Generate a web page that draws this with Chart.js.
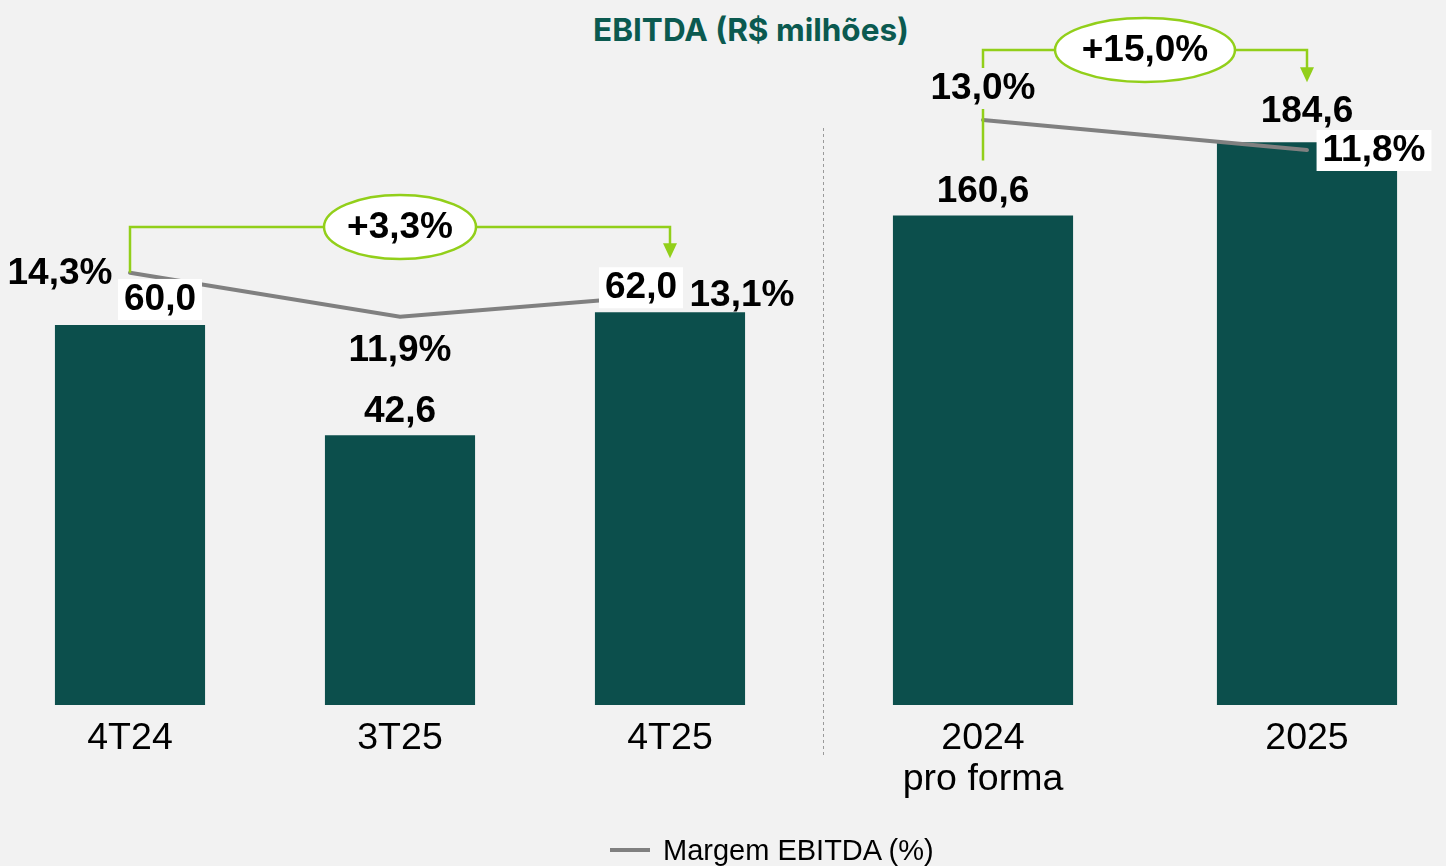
<!DOCTYPE html>
<html>
<head>
<meta charset="utf-8">
<script src="https://cdn.jsdelivr.net/npm/chart.js@4.4.1/dist/chart.umd.min.js"></script>
<style>
  html, body { margin:0; padding:0; background:#f2f2f2; width:1446px; height:866px; overflow:hidden; }
  .box { position:absolute; top:0; height:866px; }
  #title { position:absolute; top:10px; left:0; width:1502px; text-align:center; font-family:Inter, sans-serif; font-weight:700; font-size:31.5px; color:#0b5a50; }
  #legend { position:absolute; top:834px; left:610px; font-family:"Liberation Sans", Arial, sans-serif; font-size:29px; color:#000; white-space:nowrap; }
  #legend span.sw { display:inline-block; width:40px; height:4px; background:#808080; vertical-align:middle; margin-right:13px; position:relative; top:-2px; }
</style>
</head>
<body>
<div id="title">EBITDA (R$ milhões)</div>
<div class="box" style="left:-5px;width:810px"><canvas id="quarterChart"></canvas></div>
<div class="box" style="left:821px;width:648px"><canvas id="yearChart"></canvas></div>
<div id="legend"><span class="sw"></span>Margem EBITDA (%)</div>
<script>
// quarters (left block)
var quarters = ["4T24", "3T25", "4T25"];
var ebitdaQ = [60.0, 42.6, 62.0];
var marginQ = [14.3, 11.9, 13.1];
var growthQ = "+3,3%";
// full years (right block)
var years = [["2024", "pro forma"], "2025"];
var ebitdaY = [160.6, 184.6];
var marginY = [13.0, 11.8];
var growthY = "+15,0%";

var BAR = "#0c4f4c";
var GREEN = "#92cf1a";
var FONT = '"Liberation Sans", Arial, sans-serif';

// label placement per chart (kept out of chart options)
var marks = {
  quarterChart: {
    divider: false,
    bracket: { fromLine: true, top: 227, endOff: -54, rx: 76, text: growthQ },
    marginLabels: [{ dx: -70, dy: 0 }, { dx: 0, dy: 33 }, { dx: 72, dy: 0 }],
    barLabels: [{ dx: 30, dy: -26, bg: "#fff" }, { dx: 0, dy: -24 }, { dx: -29, dy: -25, bg: "#fff" }]
  },
  yearChart: {
    divider: true,
    bracket: { fromLine: false, startOff: -55, top: 50, endOff: -60, rx: 90, text: growthY },
    marginLabels: [{ dx: 0, dy: -32, bg: "#f2f2f2" }, { dx: 67, dy: 0, bg: "#fff" }],
    barLabels: [{ dx: 0, dy: -25 }, { dx: 0, dy: -32 }]
  }
};

function fmt(v) { return v.toFixed(1).replace(".", ","); }

function textBox(ctx, txt, x, y, bg) {
  ctx.font = "bold 37px " + FONT;
  if (bg) {
    var w = ctx.measureText(txt).width;
    ctx.fillStyle = bg;
    ctx.fillRect(x - w / 2 - 6, y - 20, w + 12, 41);
  }
  ctx.fillStyle = "#000";
  ctx.textAlign = "center";
  ctx.textBaseline = "middle";
  ctx.fillText(txt, x, y + 1);
}

// labels, growth bracket and divider
var marksPlugin = {
  id: "marks",
  afterDatasetsDraw: function (chart) {
    var opts = marks[chart.canvas.id];
    var ctx = chart.ctx;
    var xs = chart.scales.x, ys = chart.scales.y, y1 = chart.scales.y1;
    var bars = chart.data.datasets[1].data;
    var margins = chart.data.datasets[0].data;
    ctx.save();

    if (opts.divider) {
      ctx.strokeStyle = "#9a9a9a";
      ctx.lineWidth = 1;
      ctx.setLineDash([3, 3]);
      ctx.beginPath();
      ctx.moveTo(chart.chartArea.left + 2.5, 128);
      ctx.lineTo(chart.chartArea.left + 2.5, 757);
      ctx.stroke();
      ctx.setLineDash([]);
    }

    // bracket
    var b = opts.bracket;
    var xa = xs.getPixelForValue(0), xb = xs.getPixelForValue(bars.length - 1);
    var ya = b.fromLine ? y1.getPixelForValue(margins[0]) : ys.getPixelForValue(bars[0]) + b.startOff;
    var yTip = ys.getPixelForValue(bars[bars.length - 1]) + b.endOff;
    ctx.strokeStyle = GREEN;
    ctx.lineWidth = 2.5;
    ctx.beginPath();
    ctx.moveTo(xa, ya);
    ctx.lineTo(xa, b.top);
    ctx.lineTo(xb, b.top);
    ctx.lineTo(xb, yTip - 14);
    ctx.stroke();
    ctx.fillStyle = GREEN;
    ctx.beginPath();
    ctx.moveTo(xb - 7, yTip - 15);
    ctx.lineTo(xb + 7, yTip - 15);
    ctx.lineTo(xb, yTip);
    ctx.closePath();
    ctx.fill();
    var cx = (xa + xb) / 2;
    ctx.fillStyle = "#fff";
    ctx.beginPath();
    ctx.ellipse(cx, b.top, b.rx, 32, 0, 0, Math.PI * 2);
    ctx.fill();
    ctx.stroke();
    textBox(ctx, b.text, cx, b.top, null);

    opts.marginLabels.forEach(function (l, i) {
      var x = xs.getPixelForValue(i) + l.dx;
      var y = y1.getPixelForValue(margins[i]) + l.dy;
      textBox(ctx, fmt(margins[i]) + "%", x, y, l.bg);
    });
    opts.barLabels.forEach(function (l, i) {
      var x = xs.getPixelForValue(i) + l.dx;
      var y = ys.getPixelForValue(bars[i]) + l.dy;
      textBox(ctx, fmt(bars[i]), x, y, l.bg);
    });
    ctx.restore();
  }
};

function makeChart(id, labels, bars, margins, yMax, mMin, mMax) {
  return new Chart(document.getElementById(id), {
    type: "bar",
    data: {
      labels: labels,
      datasets: [
        {
          type: "line",
          label: "Margem EBITDA (%)",
          data: margins,
          yAxisID: "y1",
          borderColor: "#808080",
          borderWidth: 4,
          pointRadius: 0,
          borderCapStyle: "round",
          order: 0
        },
        {
          label: "EBITDA",
          data: bars,
          yAxisID: "y",
          backgroundColor: BAR,
          categoryPercentage: 1,
          barPercentage: 0.556,
          order: 1
        }
      ]
    },
    options: {
      responsive: true,
      maintainAspectRatio: false,
      animation: false,
      layout: { padding: 0 },
      plugins: { legend: { display: false }, tooltip: { enabled: false } },
      scales: {
        x: {
          grid: { display: false },
          border: { display: false },
          ticks: { color: "#000", font: { family: FONT, size: 37.5, lineHeight: 1.07 }, padding: 6, maxRotation: 0, autoSkip: false },
          afterFit: function (s) { s.height = 161; }
        },
        y: { display: false, min: 0, max: yMax },
        y1: { display: false, min: mMin, max: mMax }
      }
    },
    plugins: [marksPlugin]
  });
}

makeChart("quarterChart", quarters, ebitdaQ, marginQ, 111.3, -9.28, 29.18);
makeChart("yearChart", years, ebitdaY, marginY, 231.3, -10.4, 17.8);
</script>
</body>
</html>
